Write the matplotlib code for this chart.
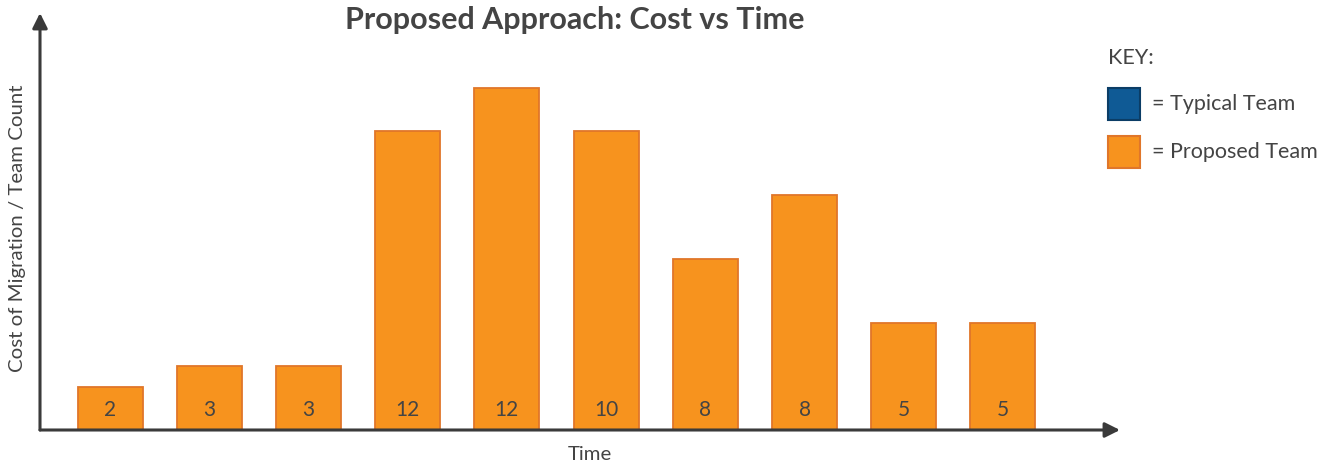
import matplotlib
matplotlib.use("Agg")
import matplotlib.pyplot as plt
from matplotlib.patches import Rectangle

# values
periods = list(range(10))
cost = [2, 3, 3, 14, 16, 14, 8, 11, 5, 5]        # bar heights (relative units)
team_count = [2, 3, 3, 12, 12, 10, 8, 8, 5, 5]   # labels printed inside bars
key_labels = ["= Typical Team", "= Proposed Team"]

ORANGE = "#F7931E"
ORANGE_EDGE = "#E0762A"
BLUE = "#0F5A95"
BLUE_EDGE = "#0B3D66"
TEXT = "#444444"
AXIS = "#3a3a3a"

plt.rcParams["font.family"] = ["Lato", "DejaVu Sans"]

W, H = 1327, 470
fig = plt.figure(figsize=(W / 100, H / 100), dpi=100)

# axes area in pixel terms: y axis at x=40, x axis at y=430, arrows reach x=1120 / y=13
left, right, bottom, top = 40, 1120, 430, 13
ax = fig.add_axes([left / W, (H - bottom) / H, (right - left) / W, (bottom - top) / H])

ax.bar(periods, cost, width=0.655, color=ORANGE, edgecolor=ORANGE_EDGE, linewidth=1.3, zorder=2)
for x, n in zip(periods, team_count):
    ax.text(x, 0.95, str(n), ha="center", va="center", fontsize=15, color=TEXT, zorder=3)

ax.set_xlim(-0.706, 10.18)
ax.set_ylim(0, 19.5)
for s in ax.spines.values():
    s.set_visible(False)
ax.set_xticks([])
ax.set_yticks([])

# arrowed axes
arrow = dict(arrowstyle="-|>,head_width=0.45,head_length=0.9", color=AXIS, lw=2.2,
             shrinkA=0, shrinkB=0)
ax.annotate("", xy=(1, 0), xytext=(0, 0), xycoords="axes fraction", arrowprops=arrow)
ax.annotate("", xy=(0, 1), xytext=(0, 0), xycoords="axes fraction", arrowprops=arrow)

fig.text(575 / W, 1 - 20 / H, "Proposed Approach: Cost vs Time", ha="center", va="center",
         fontsize=22, fontweight="bold", color=TEXT)
fig.text(18 / W, 1 - 228 / H, "Cost of Migration / Team Count", rotation=90,
         ha="center", va="center", fontsize=14.7, color=TEXT)
fig.text(590 / W, 1 - 455 / H, "Time", ha="center", va="center", fontsize=14.7, color=TEXT)

# key
fig.text(1108 / W, 1 - 58 / H, "KEY:", ha="left", va="center", fontsize=15.5, color=TEXT)
for (y, fc, ec), lab in zip([(104, BLUE, BLUE_EDGE), (152, ORANGE, ORANGE_EDGE)], key_labels):
    fig.add_artist(Rectangle((1108 / W, 1 - (y + 16) / H), 32 / W, 32 / H,
                             facecolor=fc, edgecolor=ec, linewidth=1.5,
                             transform=fig.transFigure))
    fig.text(1152 / W, 1 - y / H, lab, ha="left", va="center", fontsize=15.5, color=TEXT)

fig.savefig("out.png", dpi=100, facecolor="white")
